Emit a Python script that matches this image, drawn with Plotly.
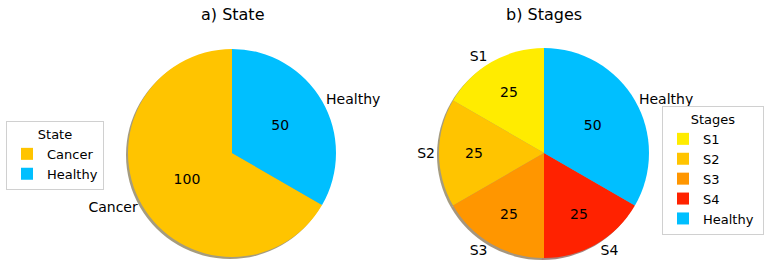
import plotly.graph_objects as go

# Data
state_labels = ["Cancer", "Healthy"]
state_values = [100, 50]
state_colors = ["#FFC400", "#00BFFF"]

stage_labels = ["S1", "S2", "S3", "S4", "Healthy"]
stage_values = [25, 25, 25, 25, 50]
stage_colors = ["#FFEC00", "#FFC400", "#FF9600", "#FF2200", "#00BFFF"]

W, H = 770, 268
FONT = "DejaVu Sans"


def hex_shadow(c):
    r, g, b = int(c[1:3], 16), int(c[3:5], 16), int(c[5:7], 16)
    return "rgba(%d,%d,%d,0.5)" % (r * 0.3, g * 0.3, b * 0.3)


def dom(cx, cy, r):
    return dict(x=[(cx - r) / W, (cx + r) / W], y=[(H - cy - r) / H, (H - cy + r) / H])


fig = go.Figure()


def add_pie(labels, values, colors, cx, cy, r, legend, suffix=""):
    # plotly starts a counterclockwise pie with the first slice ending at 12 o'clock;
    # rotate so that the first slice starts at 12 o'clock (matplotlib startangle=90)
    rot = -360.0 * values[0] / sum(values)
    keys = [l + suffix for l in labels]
    common = dict(labels=keys, values=values, sort=False, direction="counterclockwise",
                  rotation=rot)
    # shadow
    fig.add_trace(go.Pie(**common, domain=dom(cx - 2, cy + 2, r),
                         marker=dict(colors=[hex_shadow(c) for c in colors], line=dict(width=0)),
                         textinfo="none", hoverinfo="skip", showlegend=False))
    # main pie with values inside
    fig.add_trace(go.Pie(**common, domain=dom(cx, cy, r),
                         marker=dict(colors=colors, line=dict(width=0)),
                         textinfo="value", textposition="inside",
                         insidetextorientation="horizontal",
                         textfont=dict(family=FONT, size=14, color="black"),
                         legend=legend, showlegend=True))
    # outside labels
    fig.add_trace(go.Pie(**common, domain=dom(cx, cy, r),
                         marker=dict(colors=["rgba(0,0,0,0)"] * len(labels), line=dict(width=0)),
                         text=labels, textinfo="text", textposition="outside",
                         outsidetextfont=dict(family=FONT, size=14, color="black"),
                         hoverinfo="skip", showlegend=False))


add_pie(state_labels, state_values, state_colors, 232, 153, 104, "legend")
add_pie(stage_labels, stage_values, stage_colors, 544, 153, 105, "legend2", suffix=" ")

legend_common = dict(font=dict(family=FONT, size=13, color="black"),
                     bgcolor="white", bordercolor="#d0d0d0", borderwidth=1,
                     xanchor="left", yanchor="top", tracegroupgap=0)

fig.update_layout(
    width=W, height=H,
    margin=dict(l=0, r=0, t=0, b=0),
    paper_bgcolor="white", plot_bgcolor="white",
    font=dict(family=FONT, size=13, color="black"),
    legend=dict(**legend_common, x=6 / W, y=1 - 121 / H,
                title=dict(text="State", side="top center", font=dict(family=FONT, size=13))),
    legend2=dict(**legend_common, x=662 / W, y=1 - 106 / H,
                 title=dict(text="Stages", side="top center", font=dict(family=FONT, size=13))),
    annotations=[
        dict(text="a) State", x=232 / W, y=1 - 15 / H, xref="paper", yref="paper",
             xanchor="center", yanchor="middle",
             showarrow=False, font=dict(family=FONT, size=16, color="black")),
        dict(text="b) Stages", x=544 / W, y=1 - 15 / H, xref="paper", yref="paper",
             xanchor="center", yanchor="middle",
             showarrow=False, font=dict(family=FONT, size=16, color="black")),
    ],
)

fig.write_html("out.html", config={"displayModeBar": False})

with open("out.html", "r", encoding="utf-8") as f:
    html = f.read()
html = html.replace("<head>", "<head><style>html,body{margin:0;padding:0;overflow:hidden}</style>", 1)
with open("out.html", "w", encoding="utf-8") as f:
    f.write(html)
